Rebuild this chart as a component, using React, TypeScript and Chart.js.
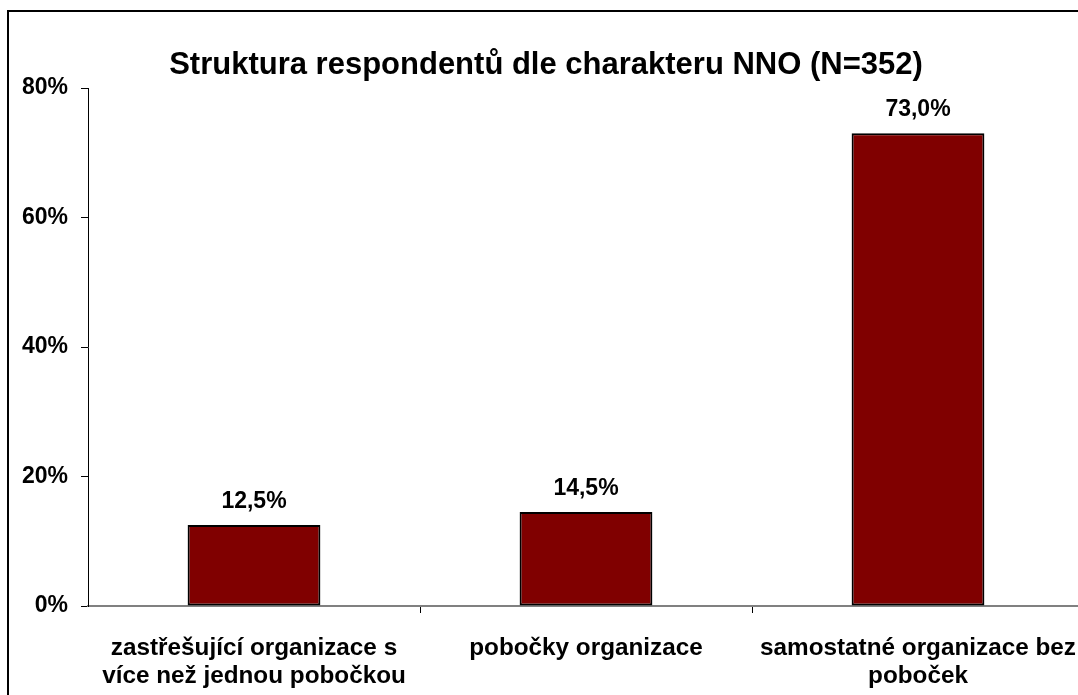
import React, { useEffect, useRef } from "react";
import { Chart, registerables } from "chart.js";

Chart.register(...registerables);

const categories: string[][] = [
  ["zastřešující organizace s", "více než jednou pobočkou"],
  ["pobočky organizace"],
  ["samostatné organizace bez", "poboček"],
];
const values: number[] = [12.5, 14.5, 73.0];
const yTicks: number[] = [0, 20, 40, 60, 80];
const titleText = "Struktura respondentů dle charakteru NNO (N=352)";

const FONT = "Arial, 'Liberation Sans', sans-serif";

export default function App() {
  const ref = useRef<HTMLCanvasElement | null>(null);

  useEffect(() => {
    document.body.style.margin = "0";
    const canvas = ref.current;
    if (!canvas) return;

    const decor = {
      id: "decor",
      afterDraw(chart: any) {
        const ctx = chart.ctx;
        ctx.save();
        // outer frame
        ctx.strokeStyle = "#000";
        ctx.lineWidth = 2;
        ctx.strokeRect(8, 11, 2000, 2000);
        // title
        ctx.fillStyle = "#000";
        ctx.font = `bold 31px ${FONT}`;
        ctx.textAlign = "center";
        ctx.textBaseline = "alphabetic";
        ctx.fillText(titleText, 546, 74);
        // value labels
        ctx.font = `bold 23px ${FONT}`;
        const meta = chart.getDatasetMeta(0);
        meta.data.forEach((bar: any, i: number) => {
          const txt = values[i].toFixed(1).replace(".", ",") + "%";
          ctx.fillText(txt, bar.x, bar.y - 17);
        });
        ctx.restore();
      },
    };

    const chart = new Chart(canvas, {
      type: "bar",
      data: {
        labels: categories,
        datasets: [
          {
            data: values,
            backgroundColor: "#800000",
            borderColor: "#000",
            borderWidth: 2,
            borderSkipped: false,
            barPercentage: 0.4,
            categoryPercentage: 1,
          },
        ],
      },
      options: {
        responsive: false,
        animation: false,
        layout: { padding: { left: 0, top: 88, right: 16, bottom: 0 } },
        plugins: {
          legend: { display: false },
          title: { display: false },
          tooltip: { enabled: false },
        },
        scales: {
          x: {
            offset: true,
            grid: {
              offset: true,
              drawOnChartArea: false,
              drawTicks: true,
              tickLength: 7,
              color: (c: any) => (c.index === 0 ? "rgba(0,0,0,0)" : "#000"),
            },
            border: { color: "#808080", width: 2 },
            ticks: {
              color: "#000",
              padding: 21,
              font: { family: FONT, size: 24.3, weight: "bold", lineHeight: 1.15 },
              maxRotation: 0,
              autoSkip: false,
            },
            afterFit: (s: any) => {
              s.height = 89;
            },
          },
          y: {
            min: 0,
            max: 80,
            afterBuildTicks: (s: any) => {
              s.ticks = yTicks.map((v) => ({ value: v }));
            },
            grid: {
              drawOnChartArea: false,
              drawTicks: true,
              tickLength: 7,
              color: "#000",
            },
            border: { color: "#000", width: 1 },
            ticks: {
              color: "#000",
              padding: 13,
              font: { family: FONT, size: 23, weight: "bold" },
              callback: (v: any) => `${v}%`,
            },
            afterFit: (s: any) => {
              s.width = 88;
            },
          },
        },
      },
      plugins: [decor],
    });

    return () => chart.destroy();
  }, []);

  return (
    <div style={{ width: 1078, height: 695, overflow: "hidden", position: "relative", background: "#fff" }}>
      <canvas ref={ref} width={1100} height={695} style={{ display: "block" }} />
    </div>
  );
}
